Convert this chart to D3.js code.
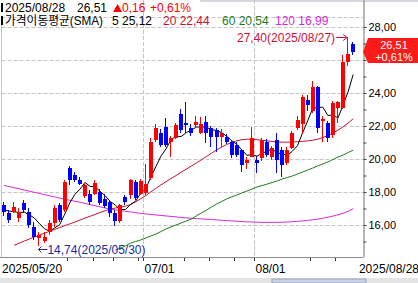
<!doctype html>
<html lang="ko">
<head>
<meta charset="UTF-8">
<title>candle</title>
<script src="https://cdn.jsdelivr.net/npm/d3@7"></script>
<style>
  body { margin: 0; background: #fff; }
  svg { display: block; font-family: "Liberation Sans", Arial, "Noto Sans CJK KR", sans-serif; }
</style>
</head>
<body>
<svg width="418" height="283"></svg>
<script>

// trading days shown on the chart
const dates = [
    "2025-05-20", "2025-05-21", "2025-05-22", "2025-05-23", "2025-05-27", "2025-05-28", "2025-05-29", "2025-05-30",
    "2025-06-02", "2025-06-03", "2025-06-04", "2025-06-05", "2025-06-06", "2025-06-09", "2025-06-10", "2025-06-11",
    "2025-06-12", "2025-06-13", "2025-06-16", "2025-06-17", "2025-06-18", "2025-06-20", "2025-06-23", "2025-06-24",
    "2025-06-25", "2025-06-26", "2025-06-27", "2025-06-30", "2025-07-01", "2025-07-02", "2025-07-03", "2025-07-07",
    "2025-07-08", "2025-07-09", "2025-07-10", "2025-07-11", "2025-07-14", "2025-07-15", "2025-07-16", "2025-07-17",
    "2025-07-18", "2025-07-21", "2025-07-22", "2025-07-23", "2025-07-24", "2025-07-25", "2025-07-28", "2025-07-29",
    "2025-07-30", "2025-07-31", "2025-08-01", "2025-08-04", "2025-08-05", "2025-08-06", "2025-08-07", "2025-08-08",
    "2025-08-11", "2025-08-12", "2025-08-13", "2025-08-14", "2025-08-15", "2025-08-18", "2025-08-19", "2025-08-20",
    "2025-08-21", "2025-08-22", "2025-08-25", "2025-08-26", "2025-08-27", "2025-08-28"
];

const open = [17.2, 16.73, 16.8, 16.42, 17.33, 16.8, 15.9, 15.2, 15.05, 15.6, 16.1, 17.2, 16.9, 19.45, 19.0, 18.7,
    17.75, 17.9, 17.9, 18.0, 17.6, 17.4, 16.7, 16.25, 17.7, 17.8, 18.6, 17.9, 17.95, 18.85, 21.15, 21.6,
    21.95, 21.0, 21.3, 22.75, 22.2, 21.88, 22.05, 21.6, 22.24, 21.88, 21.76, 21.33, 21.33, 21.0, 20.85, 20.55,
    19.76, 20.12, 19.94, 20.06, 21.03, 20.1, 21.15, 20.55, 19.76, 20.67, 21.88, 22.1, 23.58, 22.9, 24.36, 22.3,
    22.18, 21.45, 23.09, 23.09, 25.88, 26.97];
const high = [17.4, 16.9, 17.4, 17.0, 17.5, 17.0, 16.2, 15.6, 15.55, 16.3, 17.2, 17.35, 18.75, 19.6, 19.2, 18.9,
    18.55, 18.1, 18.7, 18.2, 17.9, 17.5, 16.9, 17.3, 17.8, 18.8, 18.7, 18.8, 19.7, 21.3, 22.1, 21.8,
    22.5, 21.4, 22.2, 23.0, 23.45, 22.1, 22.6, 22.55, 22.6, 22.0, 21.9, 21.8, 21.5, 21.1, 21.0, 20.6,
    20.1, 21.94, 20.2, 21.3, 21.2, 20.8, 21.55, 20.7, 20.7, 21.7, 22.6, 23.85, 23.9, 24.7, 24.4, 22.6,
    22.3, 23.5, 23.5, 26.3, 27.40, 27.1];
const low = [16.55, 16.15, 16.7, 16.2, 16.7, 15.8, 15.1, 14.74, 14.9, 15.4, 15.9, 16.2, 16.8, 18.4, 18.6, 18.4,
    17.65, 17.2, 17.8, 17.2, 17.0, 16.5, 15.95, 16.1, 17.2, 17.6, 17.5, 17.8, 17.8, 18.7, 21.0, 20.7,
    20.7, 20.1, 21.2, 21.6, 21.6, 21.4, 21.9, 21.5, 20.97, 20.73, 20.42, 20.73, 20.9, 20.06, 20.1, 19.2,
    19.4, 20.1, 19.15, 19.9, 20.1, 19.95, 19.15, 18.9, 19.64, 20.6, 21.75, 21.5, 22.9, 22.8, 21.58, 21.0,
    21.03, 21.3, 22.2, 23.0, 25.64, 26.3];
const close = [16.8, 16.3, 17.1, 16.8, 16.9, 16.0, 15.3, 15.4, 15.3, 16.1, 17.0, 16.3, 18.6, 18.7, 18.7, 18.5,
    18.4, 17.4, 18.55, 17.35, 17.15, 16.7, 16.25, 17.2, 17.4, 18.7, 17.65, 18.65, 18.5, 21.0, 21.85, 20.85,
    20.85, 21.3, 22.05, 21.75, 22.05, 21.58, 22.24, 22.15, 21.6, 21.33, 21.33, 21.6, 21.03, 20.24, 20.24, 19.64,
    19.94, 21.27, 19.76, 21.15, 20.24, 20.67, 19.94, 19.64, 20.55, 21.58, 22.36, 23.76, 23.27, 24.36, 21.88, 22.42,
    21.27, 23.39, 23.45, 25.88, 26.35, 26.51];

// moving average lines
const sma5 = [16.9, 16.85, 16.8, 16.75, 16.78, 16.62, 16.42, 16.08, 15.78, 15.62, 15.82, 16.02, 16.66, 17.34, 17.86, 18.16,
    18.58, 18.34, 18.31, 18.04, 17.77, 17.43, 17.2, 16.93, 16.94, 17.25, 17.44, 17.92, 18.18, 18.9, 19.53, 20.17,
    20.61, 21.17, 21.38, 21.36, 21.6, 21.75, 21.93, 21.95, 21.92, 21.78, 21.73, 21.6, 21.38, 21.11, 20.89, 20.55,
    20.22, 20.27, 20.17, 20.35, 20.47, 20.62, 20.35, 20.33, 20.21, 20.48, 20.81, 21.58, 22.3, 23.07, 23.13, 23.14,
    22.64, 22.66, 22.48, 23.28, 24.07, 25.12];
const sma20 = [null, null, 14.77, 14.9, 15.03, 15.15, 15.27, 15.39, 15.5, 15.62, 15.73, 15.85, 15.96, 16.07, 16.18, 16.3,
    16.42, 16.53, 16.64, 16.76, 16.87, 16.96, 17.03, 17.08, 17.14, 17.24, 17.4, 17.58, 17.78, 18.0, 18.22, 18.43,
    18.62, 18.82, 19.0, 19.2, 19.38, 19.57, 19.76, 19.95, 20.15, 20.35, 20.55, 20.72, 20.88, 21.0, 21.1, 21.17,
    21.2, 21.2, 21.17, 21.14, 21.1, 21.06, 21.03, 21.02, 21.02, 21.03, 21.05, 21.07, 21.1, 21.14, 21.2, 21.3,
    21.42, 21.57, 21.75, 21.95, 22.18, 22.44];
const sma60 = [null, null, null, null, null, null, null, null, null, null, null, null, null, null, null, null,
    null, null, null, null, null, null, 14.48, 14.6, 14.73, 14.9, 15.0, 15.09, 15.21, 15.33, 15.45, 15.6,
    15.76, 15.88, 16.0, 16.12, 16.24, 16.36, 16.55, 16.73, 16.9, 17.09, 17.27, 17.42, 17.58, 17.7, 17.82, 17.94,
    18.06, 18.18, 18.3, 18.39, 18.48, 18.58, 18.67, 18.79, 18.88, 18.97, 19.09, 19.21, 19.33, 19.45, 19.58, 19.7,
    19.82, 19.97, 20.12, 20.24, 20.39, 20.54];
const sma120 = [18.4, 18.33, 18.26, 18.19, 18.12, 18.05, 17.98, 17.91, 17.84, 17.77, 17.7, 17.63, 17.56, 17.5, 17.44, 17.38,
    17.31, 17.24, 17.17, 17.1, 17.03, 16.97, 16.92, 16.87, 16.83, 16.79, 16.75, 16.71, 16.67, 16.64, 16.61, 16.58,
    16.55, 16.52, 16.49, 16.46, 16.43, 16.41, 16.39, 16.37, 16.35, 16.33, 16.31, 16.29, 16.27, 16.25, 16.23, 16.21,
    16.19, 16.18, 16.17, 16.16, 16.16, 16.16, 16.16, 16.17, 16.18, 16.2, 16.22, 16.25, 16.28, 16.32, 16.36, 16.41,
    16.47, 16.54, 16.62, 16.71, 16.83, 16.99];

const priceTicks = d3.range(15, 29);   // every 1, labelled every 2
const lastInfo = {date: "2025/08/28", price: "26,51", change: "0,16", pct: "+0,61%"};
const maLegend = [
    {name: "5", value: "25,12", color: "#000000"},
    {name: "20", value: "22,44", color: "#c8102e"},
    {name: "60", value: "20,54", color: "#1e7a1e"},
    {name: "120", value: "16,99", color: "#d42ad4"}
];

const UP = "#ff0000", DOWN = "#0000ff";
const fmt = v => d3.format(".2f")(v).replace(".", ",");

let svg = d3.select("svg");
let plot = {left: 1.5, right: 363, top: 17, bottom: 257};

let x = d3.scaleBand().domain(dates).range([1.5, 355.7]);
let cx = d => x(d) + x.step() / 2;
let yRef = d3.scaleLinear().domain([20, 24]).range([159, 93]);
let y = d3.scaleLinear().domain([yRef.invert(plot.bottom), yRef.invert(0)]).range([plot.bottom, 0]);

let parse = d3.timeParse("%Y-%m-%d");
let days = dates.map(parse);
let lastY = Math.round(y(close[close.length - 1]));

// strips of the surrounding window
svg.append("rect").attr("x", 200).attr("y", 0).attr("width", 218).attr("height", 2).attr("fill", "#d6d6dc");
svg.append("rect").attr("x", 0).attr("y", 278).attr("width", 418).attr("height", 5).attr("fill", "#e4e4e4");
svg.append("rect").attr("x", 272).attr("y", 279).attr("width", 94).attr("height", 4).attr("fill", "#c9d2e6").attr("stroke", "#9aa3b8").attr("stroke-width", 1);

svg.append("defs").append("clipPath").attr("id", "clip")
    .append("rect").attr("x", plot.left).attr("y", plot.top)
    .attr("width", plot.right - plot.left).attr("height", plot.bottom - plot.top);

// horizontal grid
svg.append("g").selectAll("line").data(priceTicks.filter(v => v % 2 === 0)).enter().append("line")
    .attr("x1", plot.left).attr("x2", plot.right)
    .attr("y1", d => Math.round(y(d)) + 0.5).attr("y2", d => Math.round(y(d)) + 0.5)
    .attr("stroke", "#c4c4c4").attr("stroke-dasharray", "4,2");
svg.append("line").attr("x1", plot.left).attr("x2", plot.right).attr("y1", plot.top + 0.5).attr("y2", plot.top + 0.5)
    .attr("stroke", "#c4c4c4").attr("stroke-dasharray", "4,2");
svg.append("line").attr("x1", plot.left).attr("x2", plot.left).attr("y1", plot.top).attr("y2", plot.bottom)
    .attr("stroke", "#c8c8c8");

// x axis: labels at first day, month starts and last day, ticks at week starts
let xg = svg.append("g").attr("font-size", 12);
let labels = [];
let first = xg.append("text").attr("x", 2).attr("y", 273).text(d3.timeFormat("%Y/%m/%d")(days[0]));
labels.push([2, 2 + first.node().getComputedTextLength()]);
let lastLbl = xg.append("text").attr("x", 419).attr("y", 273).attr("text-anchor", "end")
    .text(d3.timeFormat("%Y/%m/%d")(days[days.length - 1]));
labels.push([419 - lastLbl.node().getComputedTextLength(), 419]);

let monthStarts = dates.filter((d, i) => i > 0 && days[i].getMonth() !== days[i - 1].getMonth())
    .filter(d => x(d) > labels[0][1] + 4);
monthStarts.forEach(d => {
    let px = Math.round(x(d)) + 0.5;
    svg.append("line").attr("x1", px).attr("x2", px).attr("y1", 0).attr("y2", plot.bottom)
        .attr("stroke", "#c4c4c4").attr("stroke-dasharray", "4,2");
    let t = xg.append("text").attr("x", px + 1).attr("y", 273).text(d3.timeFormat("%m/%d")(parse(d)));
    labels.push([px, px + 1 + t.node().getComputedTextLength()]);
});
let weekStarts = dates.filter((d, i) => i > 0 && +d3.timeMonday.floor(days[i]) !== +d3.timeMonday.floor(days[i - 1]));
weekStarts.forEach(d => {
    let px = Math.round(x(d)) + 0.5;
    if (labels.some(l => px >= l[0] + 1 && px <= l[1] + 1)) return;
    svg.append("line").attr("x1", px).attr("x2", px).attr("y1", plot.bottom).attr("y2", plot.bottom + 4)
        .attr("stroke", "#333");
});
monthStarts.forEach(d => {
    let px = Math.round(x(d)) + 0.5;
    svg.append("line").attr("x1", px).attr("x2", px).attr("y1", plot.bottom).attr("y2", plot.bottom + 4)
        .attr("stroke", "#333");
});
svg.append("line").attr("x1", 0).attr("x2", plot.right).attr("y1", plot.bottom + 0.5).attr("y2", plot.bottom + 0.5)
    .attr("stroke", "#8c8c8c");

// moving averages and candles, clipped to the plot
let chart = svg.append("g").attr("clip-path", "url(#clip)");
[[sma120, "#d42ad4"], [sma60, "#1e7a1e"], [sma20, "#c8102e"], [sma5, "#000000"]].forEach(([vals, color]) => {
    let line = d3.line().defined(d => d != null).x((d, i) => cx(dates[i])).y(d => y(d));
    chart.append("path").attr("d", line(vals)).attr("fill", "none").attr("stroke", color).attr("stroke-width", 1);
});

let bodyW = 4;
let candles = chart.selectAll(".candle").data(dates).enter().append("g");
candles.append("line")
    .attr("x1", d => Math.round(cx(d) - bodyW / 2) + 1.5)
    .attr("x2", d => Math.round(cx(d) - bodyW / 2) + 1.5)
    .attr("y1", (d, i) => Math.round(y(high[i])))
    .attr("y2", (d, i) => Math.round(y(low[i])))
    .attr("stroke", (d, i) => close[i] >= open[i] ? UP : DOWN);
candles.append("rect")
    .attr("x", d => Math.round(cx(d) - bodyW / 2))
    .attr("y", (d, i) => Math.round(y(Math.max(open[i], close[i]))))
    .attr("width", bodyW)
    .attr("height", (d, i) => Math.max(1, Math.round(y(Math.min(open[i], close[i]))) - Math.round(y(Math.max(open[i], close[i])))))
    .attr("fill", (d, i) => close[i] >= open[i] ? UP : DOWN);

// right price axis (the label under the last-price box is hidden)
let yAxis = d3.axisRight(y).tickValues(priceTicks).tickSize(3).tickSizeOuter(0)
    .tickFormat(v => v % 2 === 0 && Math.abs(y(v) - lastY) > 16 ? fmt(v) : "");
let yg = svg.append("g").attr("transform", "translate(" + (plot.right + 0.5) + ",0)").call(yAxis);
yg.select(".domain").attr("stroke", "#6e6e6e");
yg.selectAll(".tick line").attr("stroke", "#444");
yg.selectAll(".tick text").attr("font-size", 11).attr("font-family", null).attr("fill", "#000").attr("x", 5);

// highest / lowest markers
let hiIdx = d3.maxIndex(high), loIdx = d3.minIndex(low);
let hiX = cx(dates[hiIdx]), hiY = y(high[hiIdx]);
svg.append("text").attr("x", hiX - 13).attr("y", hiY + 5).attr("text-anchor", "end")
    .attr("font-size", 12).attr("fill", "#d0103a")
    .text(fmt(high[hiIdx]) + "(" + d3.timeFormat("%Y/%m/%d")(days[hiIdx]) + ")");
svg.append("path").attr("d", "M" + (hiX - 12) + "," + (Math.round(hiY) + 0.5) + "H" + (hiX - 2))
    .attr("stroke", "#d0103a").attr("fill", "none");
svg.append("path").attr("d", "M" + (hiX - 5) + "," + (Math.round(hiY) - 2.5) + "L" + (hiX - 1) + "," + (Math.round(hiY) + 0.5) + "L" + (hiX - 5) + "," + (Math.round(hiY) + 3.5))
    .attr("stroke", "#d0103a").attr("fill", "none");

let loX = cx(dates[loIdx]), loY = y(low[loIdx]);
svg.append("path").attr("d", "M" + (loX + 8) + "," + (Math.round(loY) + 3.5) + "H" + (loX - 1))
    .attr("stroke", "#1c2a9c").attr("fill", "none");
svg.append("path").attr("d", "M" + (loX + 2) + "," + (Math.round(loY) + 0.5) + "L" + (loX - 1) + "," + (Math.round(loY) + 3.5) + "L" + (loX + 2) + "," + (Math.round(loY) + 6.5))
    .attr("stroke", "#1c2a9c").attr("fill", "none");
svg.append("text").attr("x", loX + 8).attr("y", loY + 8).attr("font-size", 12).attr("fill", "#1c2a9c")
    .text(fmt(low[loIdx]) + "(" + d3.timeFormat("%Y/%m/%d")(days[loIdx]) + ")");

// last price box on the axis
svg.append("path")
    .attr("d", "M" + plot.right + "," + lastY + "L368," + (lastY - 14) + "H418V" + (lastY + 11) + "H368Z")
    .attr("fill", "#ff1a1a");
svg.append("text").attr("x", 394).attr("y", lastY - 3).attr("text-anchor", "middle").attr("font-size", 11)
    .attr("fill", "#fff").text(lastInfo.price);
svg.append("text").attr("x", 394).attr("y", lastY + 9).attr("text-anchor", "middle").attr("font-size", 11)
    .attr("fill", "#fff").text(lastInfo.pct);

// header
let hd = svg.append("g").attr("font-size", 12);
hd.append("rect").attr("x", 1).attr("y", 3).attr("width", 2).attr("height", 9).attr("fill", "#000");
hd.append("text").attr("x", 5).attr("y", 12).attr("fill", "#000").text(lastInfo.date);
hd.append("text").attr("x", 77).attr("y", 12).attr("fill", "#000").text(lastInfo.price);
hd.append("path").attr("d", "M113,12L117.5,4L122,12Z").attr("fill", UP);
hd.append("text").attr("x", 122).attr("y", 12).attr("fill", UP).text(lastInfo.change);
hd.append("text").attr("x", 150).attr("y", 12).attr("fill", UP).text(lastInfo.pct);

hd.append("rect").attr("x", 1).attr("y", 16).attr("width", 2).attr("height", 9).attr("fill", "#000");
hd.append("text").attr("x", 5).attr("y", 25).attr("fill", "#000")
    .attr("textLength", 98).attr("lengthAdjust", "spacingAndGlyphs").text("가격이동평균(SMA)");
let legX = [112, 163, 222, 275];
maLegend.forEach((m, i) => {
    hd.append("text").attr("x", legX[i]).attr("y", 25).attr("fill", m.color).text(m.name + " " + m.value);
});

</script>
</body>
</html>
